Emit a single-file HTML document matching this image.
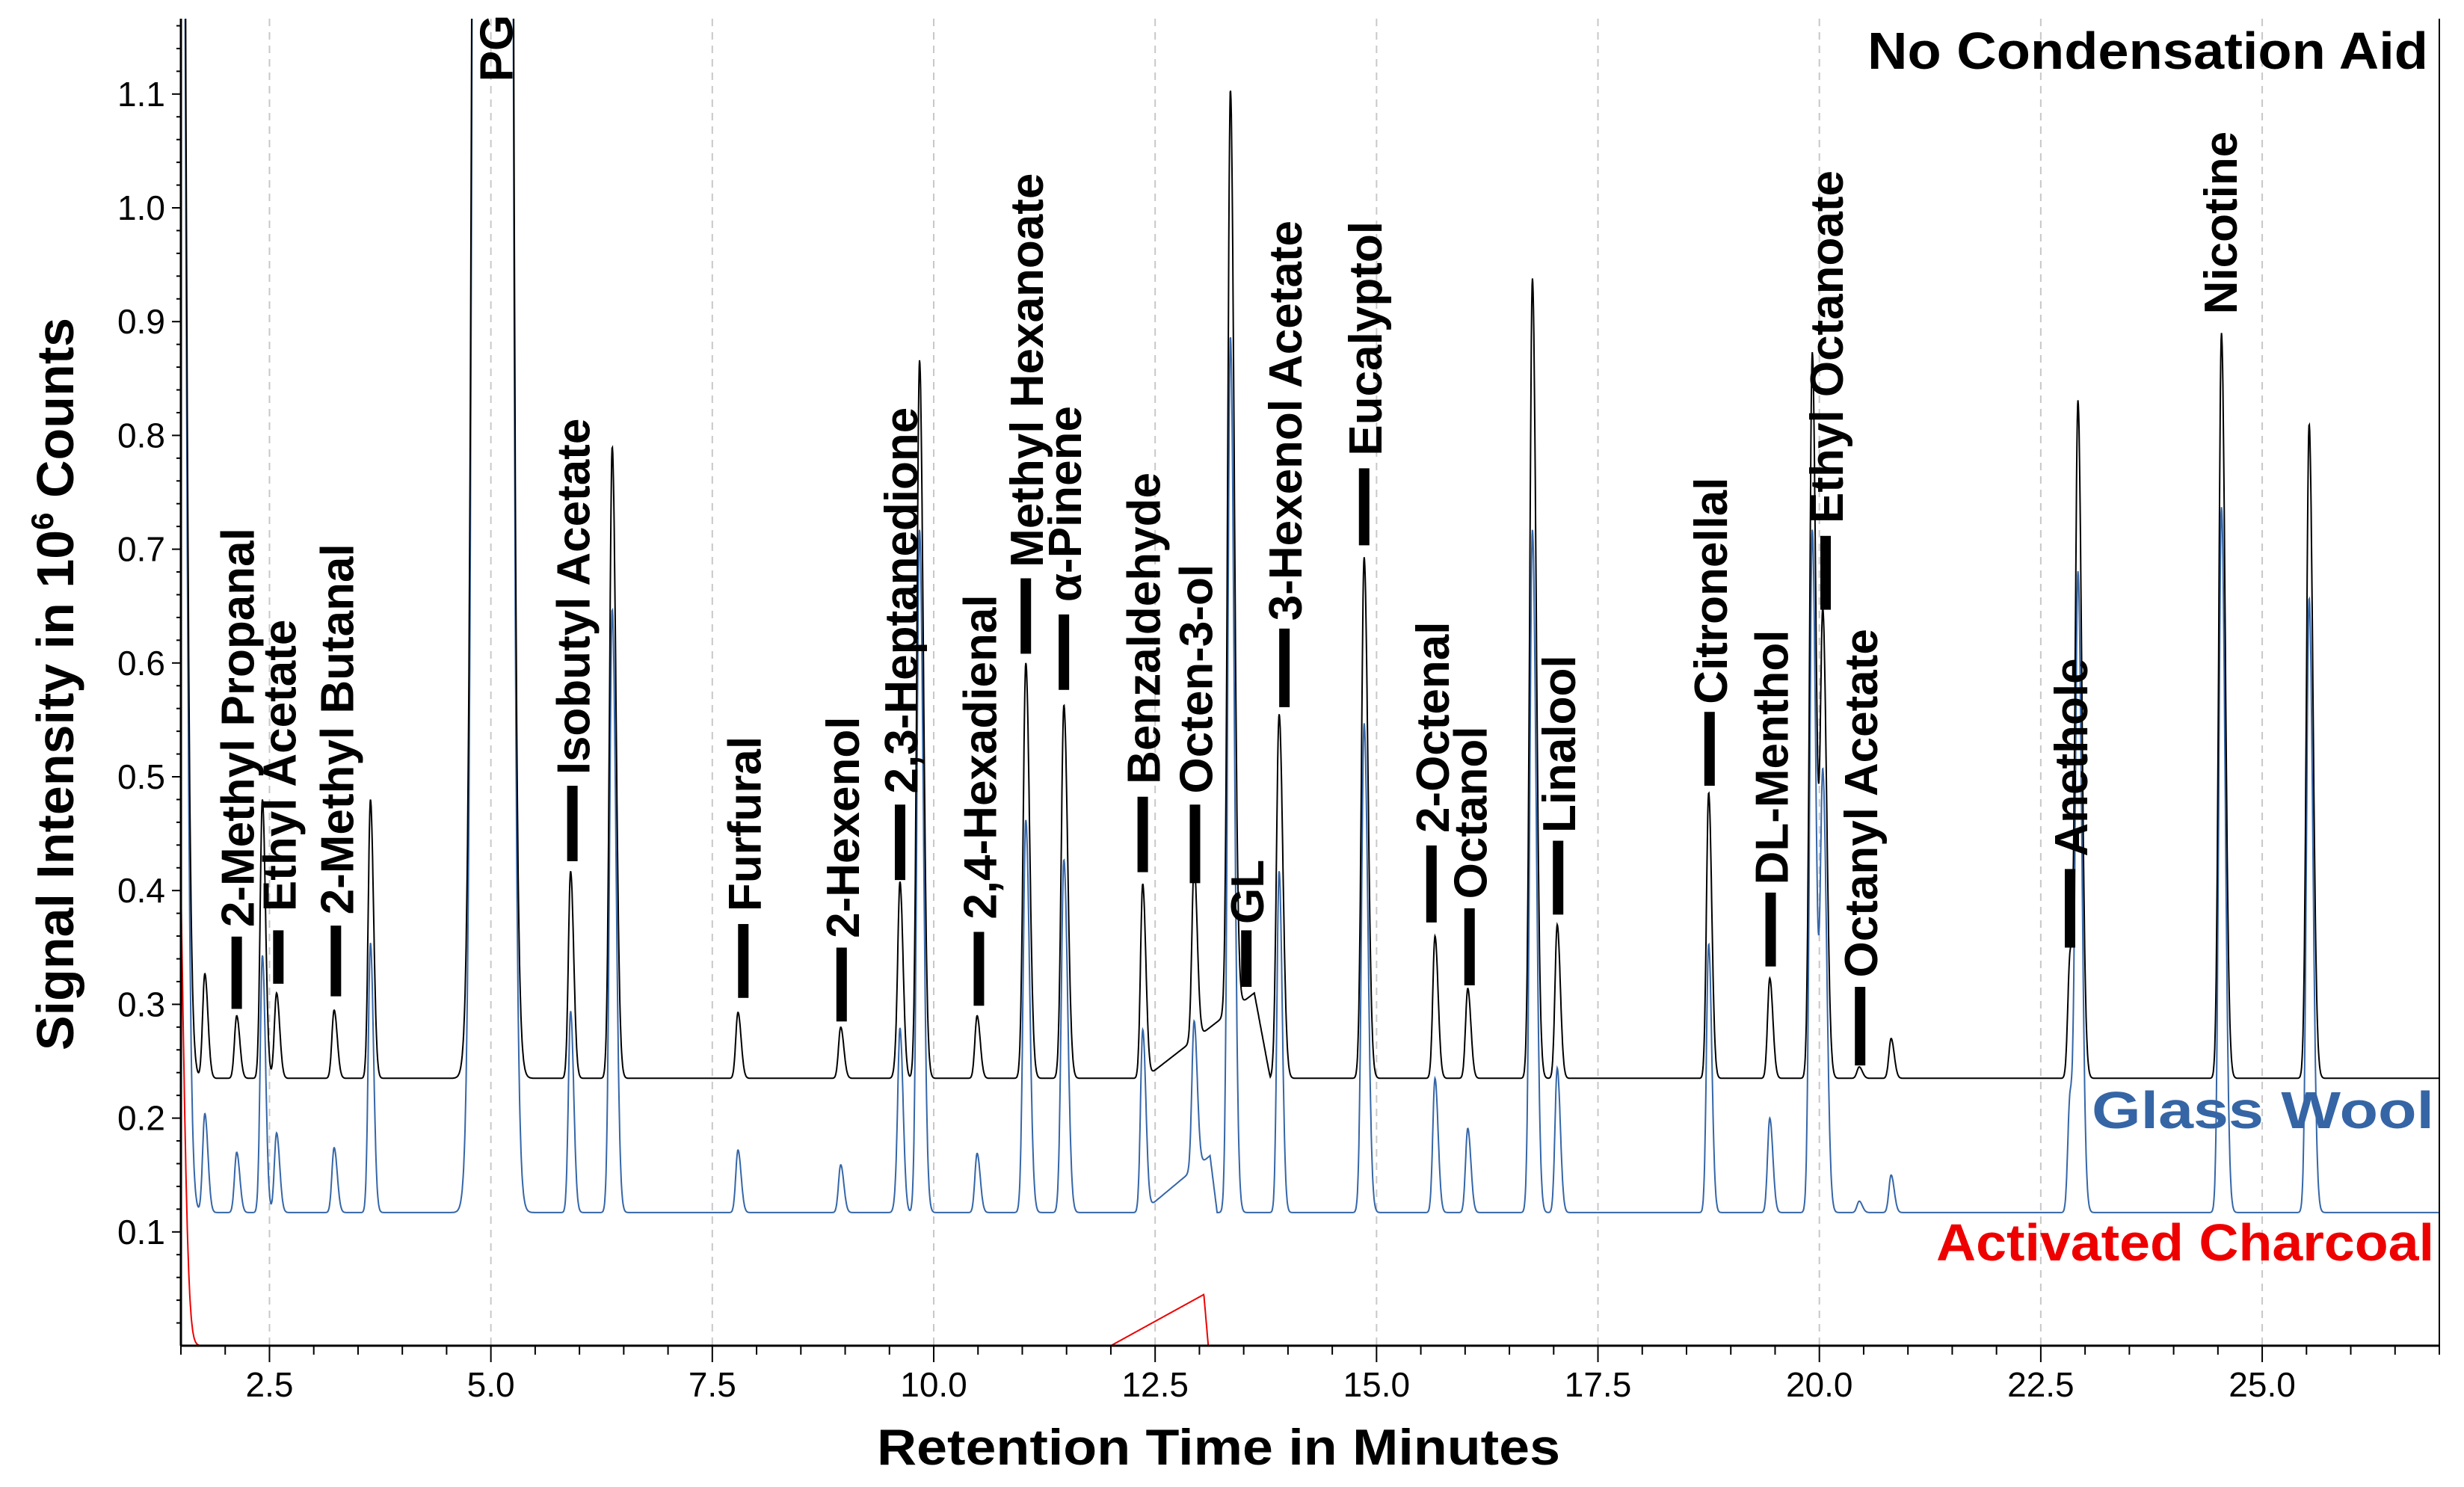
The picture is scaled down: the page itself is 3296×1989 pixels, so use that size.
<!DOCTYPE html>
<html><head><meta charset="utf-8">
<style>
html,body{margin:0;padding:0;background:#fff;}
svg{display:block;font-family:"Liberation Sans",Arial,sans-serif;}
</style></head>
<body>
<svg id="chart" width="3296" height="1989" viewBox="0 0 3296 1989" xmlns="http://www.w3.org/2000/svg">
<defs><clipPath id="plotclip"><rect x="242" y="25" width="3021" height="1775"/></clipPath></defs>
<g id="grid"></g>
<g id="series" clip-path="url(#plotclip)"></g>
<g id="axes"></g>
<g id="labels"></g>
<text x="3248" y="92" text-anchor="end" font-size="70" font-weight="bold" fill="#000" textLength="750" lengthAdjust="spacingAndGlyphs">No Condensation Aid</text>
<text x="3256" y="1509" text-anchor="end" font-size="70" font-weight="bold" fill="#3565a5" textLength="458" lengthAdjust="spacingAndGlyphs">Glass Wool</text>
<text x="3256" y="1686" text-anchor="end" font-size="70" font-weight="bold" fill="#ee0000" textLength="666" lengthAdjust="spacingAndGlyphs">Activated Charcoal</text>
<text x="1630" y="1959" text-anchor="middle" font-size="68" font-weight="bold" textLength="914" lengthAdjust="spacingAndGlyphs">Retention Time in Minutes</text>
<text transform="translate(98,915) rotate(-90)" text-anchor="middle" font-size="70" font-weight="bold">Signal Intensity in 10<tspan font-size="42" dy="-27">6</tspan><tspan dy="27"> Counts</tspan></text>
</svg>
<script>
// ---- data ----
const peakTimes = [1.77,2.13,2.42,2.58,3.23,3.64,5.90,6.37,7.79,8.95,9.58,9.62,9.84,10.49,11.04,11.47,12.36,12.94,13.35,13.90,14.86,15.66,16.03,16.76,17.04,18.75,19.44,19.92,20.04,20.45,20.81,22.83,22.92,24.54,25.53];
const blackHeights = [0.092,0.055,0.245,0.075,0.06,0.245,0.182,0.555,0.058,0.045,0.015,0.165,0.631,0.055,0.365,0.328,0.171,0.155,0.81,0.32,0.458,0.125,0.079,0.703,0.135,0.251,0.088,0.638,0.403,0.01,0.035,0.105,0.592,0.655,0.575];
const blueHeights = [0.087,0.053,0.226,0.07,0.057,0.237,0.177,0.53,0.055,0.042,0.014,0.155,0.6,0.052,0.345,0.31,0.16,0.13,0.77,0.3,0.43,0.118,0.074,0.6,0.127,0.236,0.083,0.6,0.38,0.01,0.033,0.1,0.56,0.62,0.54];
const redHeights = [0,0,0,0,0,0,0,0,0,0,0,0,0,0,0,0,0,0,0,0,0,0,0,0,0,0,0,0,0,0,0,0,0,0,0];
const baselines = [0.235, 0.117, 0.0];
const bigPeakTimes = [1.45, 5.02];
const blackBig = [3.0, 30];
const blueBig = [3.0, 30];
const redBig = [0.53, 0];
const humpStart = [12.38, 12.35, 12.0];
const humpPeak = [13.62, 13.12, 13.05];
const humpEnd = [13.8, 13.2, 13.1];
const humpHeight = [0.075, 0.05, 0.045];
const xTicks = [2.5,5.0,7.5,10.0,12.5,15.0,17.5,20.0,22.5,25.0];
const xTickLabels = ["2.5","5.0","7.5","10.0","12.5","15.0","17.5","20.0","22.5","25.0"];
const yTicks = [0.1,0.2,0.3,0.4,0.5,0.6,0.7,0.8,0.9,1.0,1.1];
const yTickLabels = ["0.1","0.2","0.3","0.4","0.5","0.6","0.7","0.8","0.9","1.0","1.1"];
const labelNames = ["2-Methyl Propanal","Ethyl Acetate","2-Methyl Butanal","Isobutyl Acetate","Furfural","2-Hexenol","2,3-Heptanedione","2,4-Hexadienal","Methyl Hexanoate","α-Pinene","Benzaldehyde","Octen-3-ol","GL","3-Hexenol Acetate","Eucalyptol","2-Octenal","Octanol","Linalool","Citronellal","DL-Menthol","Ethyl Octanoate","Octanyl Acetate","Anethole","Nicotine","PG"];
const labelTimes = [2.13,2.60,3.25,5.92,7.85,8.96,9.62,10.51,11.04,11.47,12.36,12.95,13.53,13.96,14.86,15.62,16.05,17.05,18.76,19.45,20.07,20.46,22.83,24.52,5.05];
const labelTextBottom = [590,580,582,493,580,597,505,585,361,383,499,505,588,395,290,530,572,530,448,563,333,622,545,200,52];
const labelBarTop = [596,592,589,500,588,603,512,593,368,391,507,512,592,400,298,538,578,535,453,568,341,628,553,null,null];
const labelBarBottom = [642,626,634,548,635,650,560,640,416,439,555,562,628,450,347,587,627,582,500,615,388,678,603,null,null];

// ---- scales ----
const X0=242, X1=3263, Y0=1800, YTOP=25;
const tMin=1.5, tMax=27.0;
function xs(t){return X0+(t-tMin)/(tMax-tMin)*(X1-X0);}
function ys(v){return Y0-v*1522;}
const S=2.102;
const NS="http://www.w3.org/2000/svg";
function mk(tag,attrs,parent){const e=document.createElementNS(NS,tag);for(const k in attrs)e.setAttribute(k,attrs[k]);parent.appendChild(e);return e;}

function signal(idx,heights,big,t){
  let v=baselines[idx];
  for(let i=0;i<peakTimes.length;i++){
    const h=heights[i]; if(!h) continue;
    const sg=h>0.3?0.03:0.025;
    const d=t-peakTimes[i];
    const s=d>0?sg*1.4:sg;
    v+=h*Math.exp(-d*d/(2*s*s));
  }
  const bs=[0.045,0.09];
  for(let i=0;i<bigPeakTimes.length;i++){
    const d=t-bigPeakTimes[i];
    const s=(d>0&&i===0)?bs[i]*1.5:bs[i];
    v+=big[i]*Math.exp(-d*d/(2*s*s));
  }
  if(t>=humpStart[idx]&&t<=humpEnd[idx]){
    if(t<=humpPeak[idx]) v+=humpHeight[idx]*(t-humpStart[idx])/(humpPeak[idx]-humpStart[idx]);
    else v+=humpHeight[idx]*(1-(t-humpPeak[idx])/(humpEnd[idx]-humpPeak[idx]));
  }
  return v;
}

// grid
const grid=document.getElementById('grid');
xTicks.forEach(t=>{
  const l=mk('line',{x1:xs(t),x2:xs(t),y1:YTOP,y2:Y0,stroke:'#c8c8c8','stroke-width':2,'stroke-dasharray':'10,8'},grid);
  
  
});

// series
const sg=document.getElementById('series');
const cfg=[[2,redHeights,redBig,'#ee0000','series-activated-charcoal'],[1,blueHeights,blueBig,'#3566a8','series-glass-wool'],[0,blackHeights,blackBig,'#000','series-no-condensation-aid']];
cfg.forEach(c=>{
  let d='';
  for(let t=tMin;t<=tMax+0.0001;t+=0.004){
    let v=signal(c[0],c[1],c[2],t);
    if(v>1.3)v=1.3;
    d+=(d?'L':'M')+xs(t).toFixed(1)+','+ys(v).toFixed(1);
  }
  const p=mk('path',{d:d,fill:'none',stroke:c[3],'stroke-width':2},sg);
  
  
});

// axes
const ax=document.getElementById('axes');
mk('line',{x1:X0,x2:X0,y1:YTOP,y2:Y0,stroke:'#000','stroke-width':3},ax);
mk('line',{x1:X0,x2:X1,y1:Y0,y2:Y0,stroke:'#000','stroke-width':3},ax);
mk('line',{x1:X1,x2:X1,y1:YTOP,y2:Y0,stroke:'#000','stroke-width':2},ax);
for(let t=1.5;t<=27.001;t+=0.5){
  const major=Math.abs(t/2.5-Math.round(t/2.5))<1e-6;
  const l=mk('line',{x1:xs(t),x2:xs(t),y1:Y0,y2:Y0+(major?22:12),stroke:'#000','stroke-width':2},ax);
  
  
}
xTicks.forEach((t,i)=>{
  const tx=mk('text',{x:xs(t),y:1868,'text-anchor':'middle','font-size':46},ax);
  tx.textContent=xTickLabels[i];
  
  
});
for(let k=1;k<=58;k++){
  const v=k*0.02;
  const major=k%5===0;
  const l=mk('line',{x1:X0-(major?12:6),x2:X0,y1:ys(v),y2:ys(v),stroke:'#000','stroke-width':2},ax);
  
  
}
yTicks.forEach((v,i)=>{
  const tx=mk('text',{x:221,y:ys(v)+16,'text-anchor':'end','font-size':46},ax);
  tx.textContent=yTickLabels[i];
  
  
});

// peak labels
const lg=document.getElementById('labels');
labelNames.forEach((n,i)=>{
  const cx=xs(labelTimes[i]);
  const yb=labelTextBottom[i]*S;
  const tx=mk('text',{transform:'translate('+(cx+23)+','+yb+') rotate(-90)','font-size':62,'font-weight':'bold'},lg);
  tx.textContent=n;
  
  
  if(labelBarTop[i]!==null){
    const r=mk('rect',{x:cx-7,y:labelBarTop[i]*S,width:14,height:(labelBarBottom[i]-labelBarTop[i])*S,fill:'#000'},lg);
    
    
  }
});
</script>
</body></html>
